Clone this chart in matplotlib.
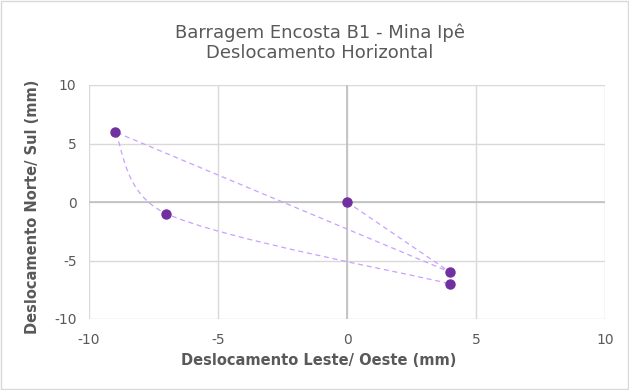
import numpy as np
import matplotlib
matplotlib.use("Agg")
import matplotlib.pyplot as plt
from matplotlib.path import Path
from matplotlib.patches import PathPatch, Rectangle

plt.rcParams['axes.unicode_minus'] = False

# Leitura em ordem cronológica (mm)
leste_oeste = [0, 4, -9, -7, 4]
norte_sul = [0, -6, 6, -1, -7]

ticks = [-10, -5, 0, 5, 10]
gray = '#595959'


def smooth_path(ax, xs, ys):
    # bezier suave tipo Excel (calculado em pixels); cantos agudos seguem o segmento
    p = ax.transData.transform(np.column_stack([xs, ys]).astype(float))
    n = len(p)
    t_out = np.zeros_like(p)
    t_in = np.zeros_like(p)
    for i in range(n):
        smooth = 0 < i < n - 1 and np.dot(p[i] - p[i - 1], p[i + 1] - p[i]) > 0
        if smooth:
            t_out[i] = t_in[i] = (p[i + 1] - p[i - 1]) / 6.0
        else:
            if i < n - 1:
                t_out[i] = (p[i + 1] - p[i]) / 6.0
            if i > 0:
                t_in[i] = (p[i] - p[i - 1]) / 6.0
    verts = [p[0]]
    codes = [Path.MOVETO]
    for i in range(n - 1):
        half = np.linalg.norm(p[i + 1] - p[i]) / 2
        a, b = t_out[i], t_in[i + 1]
        if np.linalg.norm(a) > half:
            a = a * half / np.linalg.norm(a)
        if np.linalg.norm(b) > half:
            b = b * half / np.linalg.norm(b)
        verts += [p[i] + a, p[i + 1] - b, p[i + 1]]
        codes += [Path.CURVE4] * 3
    verts = ax.transData.inverted().transform(np.array(verts))
    return Path(verts, codes)


fig = plt.figure(figsize=(6.29, 3.9), dpi=100)
ax = fig.add_axes([89 / 629, 1 - 319 / 390, 516 / 629, 234 / 390])

fig.patches.append(Rectangle((0.002, 0.003), 0.996, 0.994, transform=fig.transFigure,
                             fill=False, edgecolor='#d9d9d9', linewidth=1))

ax.set_xlim(-10, 10)
ax.set_ylim(-10, 10)
ax.set_xticks(ticks)
ax.set_yticks(ticks)
ax.grid(True, color='#d9d9d9', linewidth=1)
ax.set_axisbelow(True)
for s in ax.spines.values():
    s.set_visible(False)
ax.axhline(0, color='#bfbfbf', linewidth=1.2, zorder=1)
ax.axvline(0, color='#bfbfbf', linewidth=1.2, zorder=1)
ax.tick_params(length=0, colors=gray, labelsize=10)
ax.tick_params(axis='x', pad=10)
ax.tick_params(axis='y', pad=9)

ax.add_patch(PathPatch(smooth_path(ax, leste_oeste, norte_sul), fill=False,
                       edgecolor='#c9a0ff', linewidth=0.9, linestyle=(0, (4, 3)), zorder=2))
ax.plot(leste_oeste, norte_sul, linestyle='none', marker='o', markersize=6.5,
        color='#7030a0', zorder=3)

ax.set_xlabel('Deslocamento Leste/ Oeste (mm)', color=gray, fontsize=10.5, fontweight='bold')
ax.set_ylabel('Deslocamento Norte/ Sul (mm)', color=gray, fontsize=10.5, fontweight='bold')
ax.xaxis.set_label_coords((319 - 89) / 516, (319 - 353) / 234)
ax.yaxis.set_label_coords((40 - 89) / 516, (319 - 207) / 234)
fig.text(320 / 629, 1 - 33 / 390, 'Barragem Encosta B1 - Mina Ipê',
         ha='center', va='center', color=gray, fontsize=13)
fig.text(320 / 629, 1 - 53 / 390, 'Deslocamento Horizontal',
         ha='center', va='center', color=gray, fontsize=13)

fig.savefig('out.png', dpi=100)
